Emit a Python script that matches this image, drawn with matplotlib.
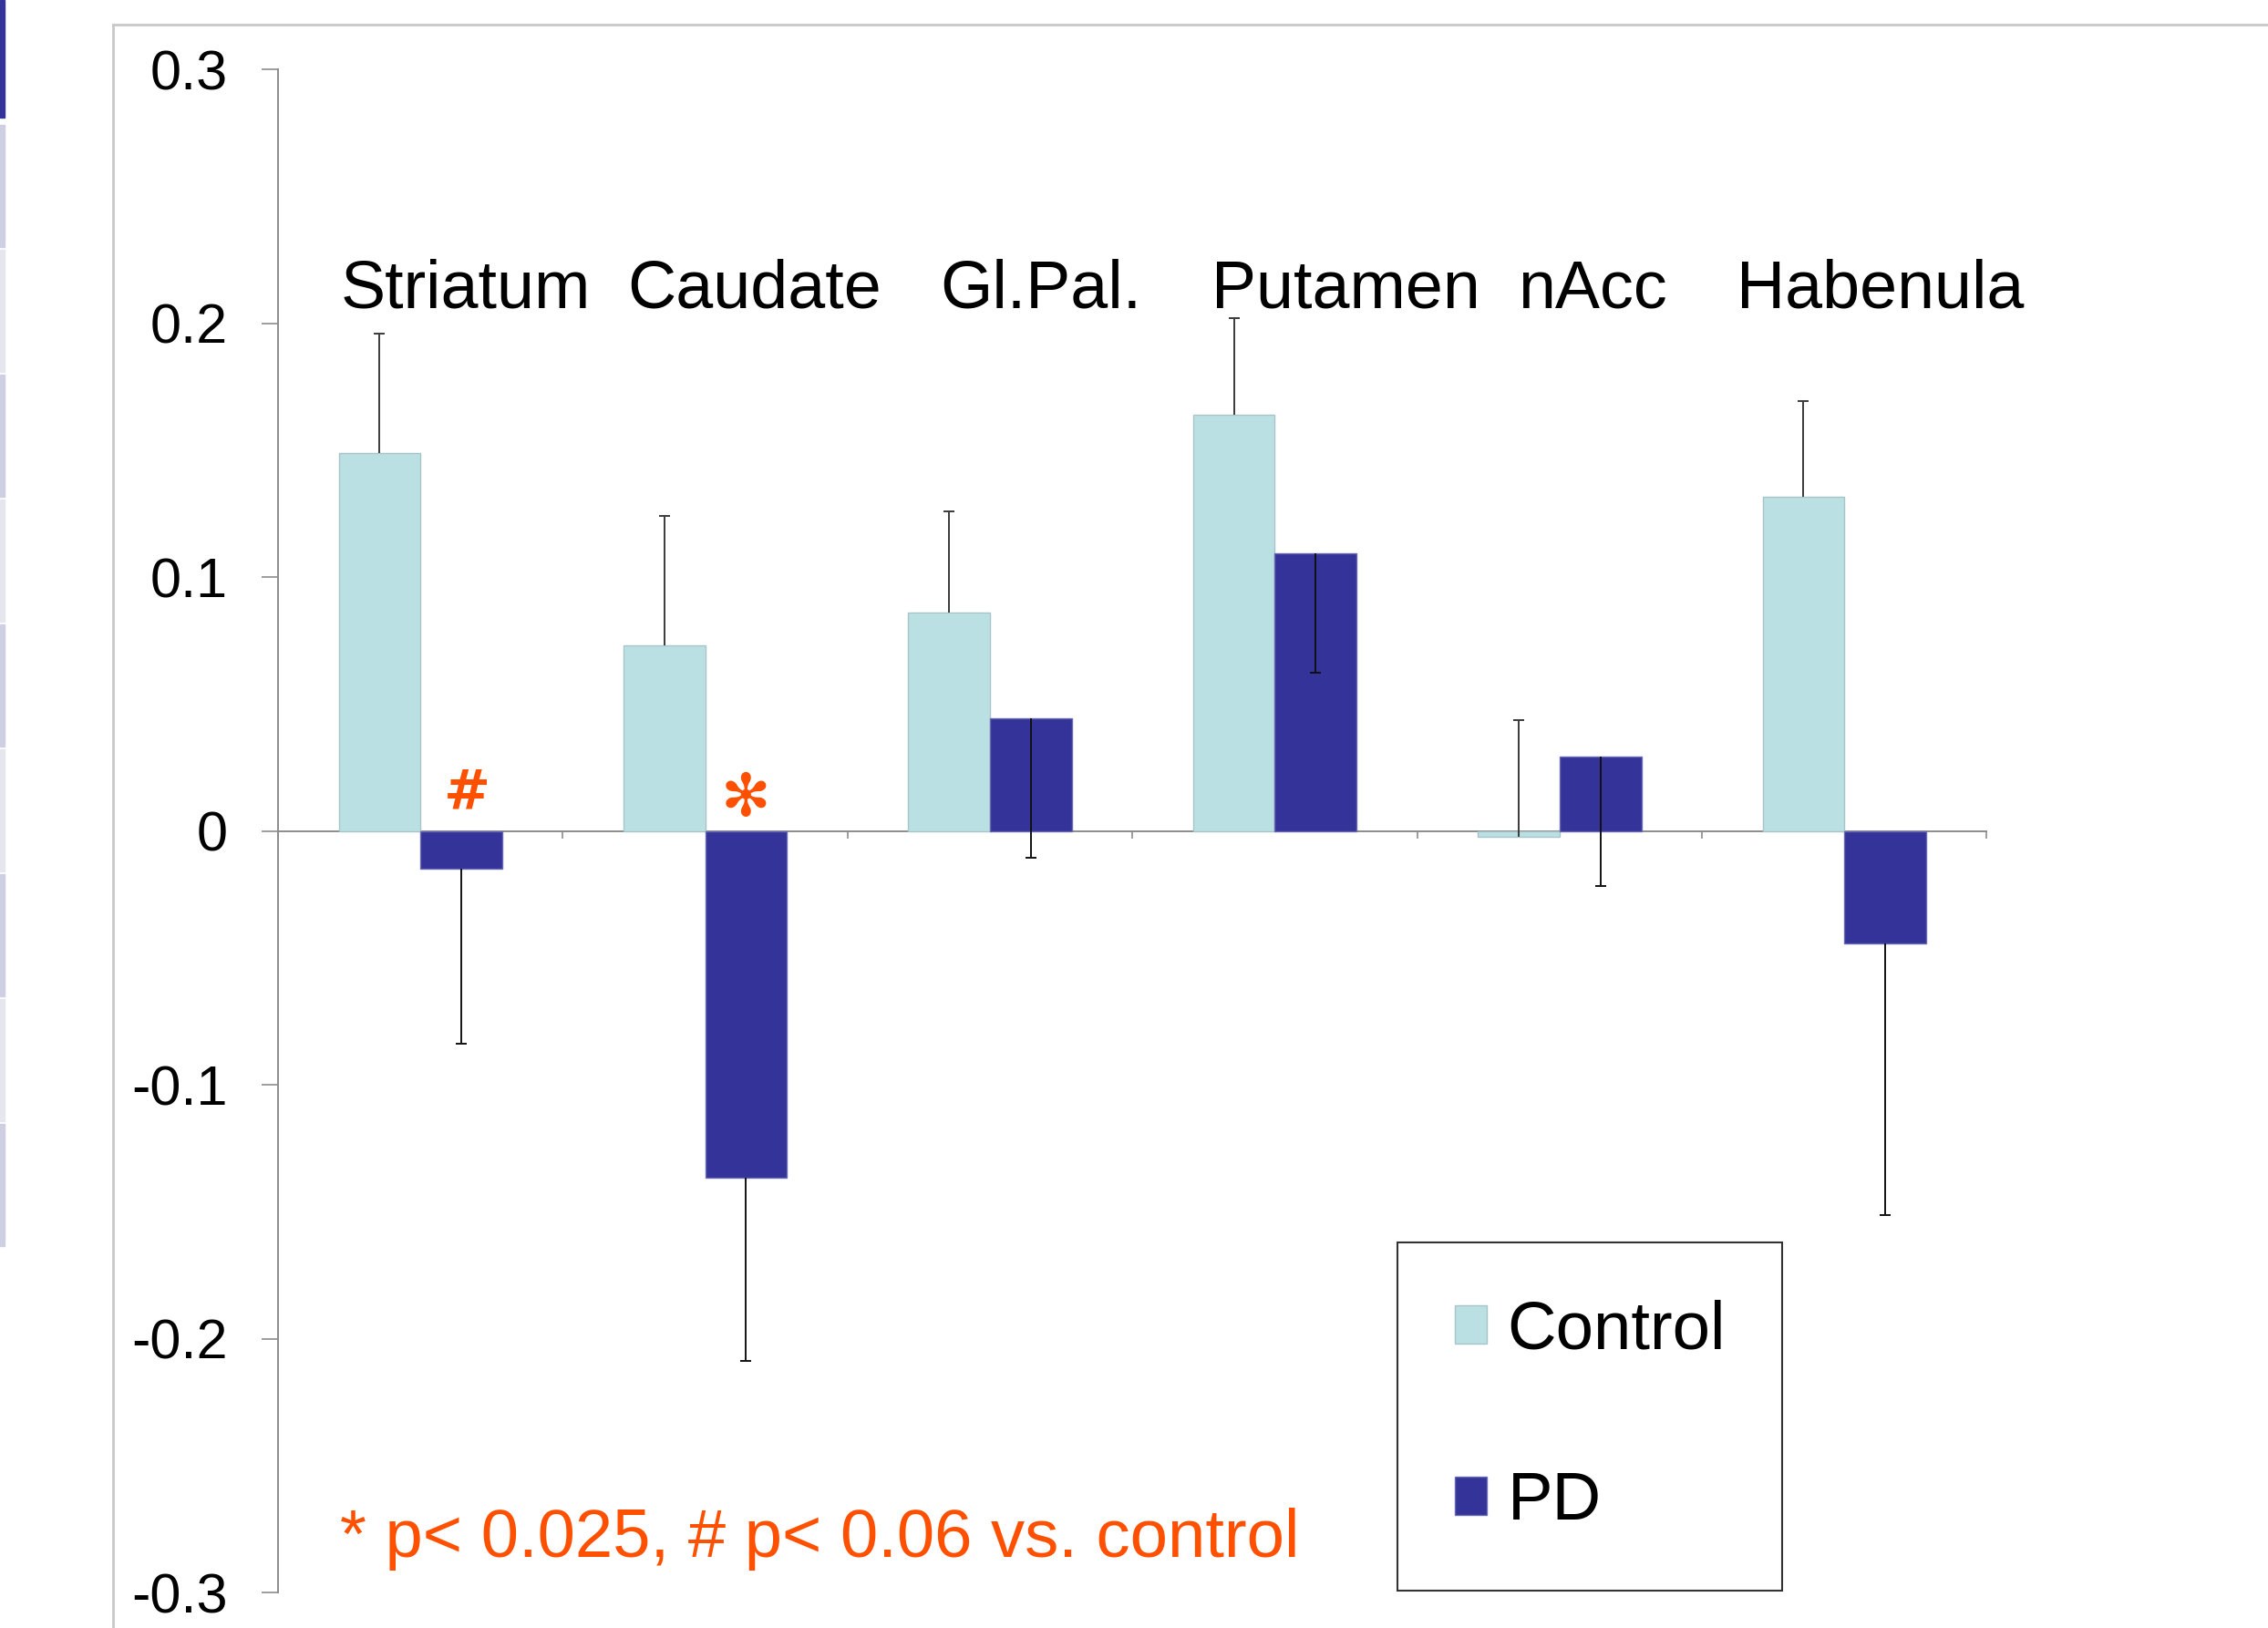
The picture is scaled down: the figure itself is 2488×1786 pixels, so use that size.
import numpy as np
import matplotlib.pyplot as plt
from matplotlib.lines import Line2D
from matplotlib.patches import Rectangle

plt.rcParams['font.family'] = ['Liberation Sans', 'DejaVu Sans']

# ---------------- data ----------------
regions = ['Striatum', 'Caudate', 'Gl.Pal.', 'Putamen', 'nAcc', 'Habenula']
control = [0.149, 0.073, 0.086, 0.164, -0.0024, 0.1315]
control_err = [0.047, 0.051, 0.040, 0.038, 0.046, 0.038]
pd_vals = [-0.0148, -0.1366, 0.0444, 0.1093, 0.0294, -0.0443]
pd_err = [0.069, 0.072, 0.055, 0.047, 0.051, 0.107]
sig_marks = ['#', '\u273b', '', '', '', '']
yticks = [-0.3, -0.2, -0.1, 0, 0.1, 0.2, 0.3]
ytick_labels = ['-0.3', '-0.2', '-0.1', '0', '0.1', '0.2', '0.3']
footnote = '* p< 0.025, # p< 0.06 vs. control'

# label left edges (in category units, offset from group index)
label_offsets = [-0.282, -0.272, -0.175, -0.221, -0.145, -0.378]

c_col = '#bae0e3'
pd_col = '#333399'
orange = '#ff5000'
gray = '#8c8c8c'

fig = plt.figure(figsize=(24.88, 17.86), dpi=100)
ax = fig.add_axes([0.1226, 0.0218, 0.7534, 0.9356])

x = np.arange(len(regions))
w = 0.287
xc = x - w / 2
xp = x + w / 2

ax.bar(xc, control, width=w, color=c_col, edgecolor='#a8c4c6', linewidth=1.0,
       label='Control', zorder=2)
ax.bar(xp, pd_vals, width=w, color=pd_col, edgecolor='#6a6ab0', linewidth=1.0,
       label='PD', zorder=2)

# one-sided error bars: up for control, down for PD
c_top = np.array(control) + np.array(control_err)
p_bot = np.array(pd_vals) - np.array(pd_err)
ax.vlines(xc, control, c_top, color='#3a3a3a', linewidth=1.4, zorder=3)
ax.vlines(xp, pd_vals, p_bot, color='#111111', linewidth=1.4, zorder=3)
ax.plot(xc, c_top, linestyle='none', marker='_', markersize=9,
        markeredgewidth=1.4, color='#3a3a3a', zorder=3)
ax.plot(xp, p_bot, linestyle='none', marker='_', markersize=9,
        markeredgewidth=1.4, color='#111111', zorder=3)

# significance marks above PD bars
for xi, m in zip(xp, sig_marks):
    if m == '#':
        ax.text(xi + 0.02, 0.015, m, color=orange, fontsize=44,
                family=['DejaVu Sans'], fontweight='bold',
                ha='center', va='center')
    elif m:
        ax.text(xi, 0.0125, m, color=orange, fontsize=47,
                family=['DejaVu Sans'], ha='center', va='center')

# region names
for xi, name, off in zip(x, regions, label_offsets):
    ax.text(xi + off, 0.206, name, fontsize=53, ha='left', va='baseline')

ax.text(-0.282, -0.2858, footnote, color=orange, fontsize=53.5,
        ha='left', va='baseline')

ax.set_xlim(-0.5, len(regions) - 0.5)
ax.set_ylim(-0.3, 0.3)
ax.set_yticks(yticks)
ax.set_yticklabels(ytick_labels)
ax.set_xticks(np.arange(len(regions) + 1) - 0.5)
ax.set_xticklabels([])

for s in ['top', 'right']:
    ax.spines[s].set_visible(False)
ax.spines['bottom'].set_position(('data', 0))
ax.spines['bottom'].set_color(gray)
ax.spines['left'].set_color(gray)
ax.spines['bottom'].set_linewidth(1.4)
ax.spines['left'].set_linewidth(1.4)
ax.spines['bottom'].set_zorder(1)
ax.tick_params(axis='y', direction='out', length=13, width=1.2, color=gray,
               labelsize=44, pad=27)
ax.tick_params(axis='x', direction='out', length=6, width=1.2, color=gray)

leg = ax.legend(loc='upper left', bbox_to_anchor=(0.6162, 0.2368),
                bbox_transform=fig.transFigure, fontsize=53.5, frameon=True,
                fancybox=False, framealpha=1, edgecolor='#333333',
                handlelength=0.48, handleheight=0.48, handletextpad=0.3,
                labelspacing=1.6, borderpad=0.84, borderaxespad=0)
leg.get_frame().set_linewidth(1.5)

# slide frame and side strip
fig.add_artist(Line2D([124 / 2488, 1], [1 - 27 / 1786] * 2, color='#c8c8c8',
                      linewidth=2, transform=fig.transFigure))
fig.add_artist(Line2D([124 / 2488] * 2, [0, 1 - 27 / 1786], color='#c8c8c8',
                      linewidth=2, transform=fig.transFigure))
fig.add_artist(Rectangle((0, 1 - 129 / 1786), 5 / 2488, 129 / 1786,
                         color='#333399', transform=fig.transFigure))
for i in range(9):
    y0 = 137 + i * 137
    col = '#cfcfe3' if i % 2 == 0 else '#e6e6ef'
    fig.add_artist(Rectangle((0, 1 - (y0 + 134) / 1786), 5 / 2488, 134 / 1786,
                             color=col, transform=fig.transFigure))

fig.savefig('out.png', dpi=100)
